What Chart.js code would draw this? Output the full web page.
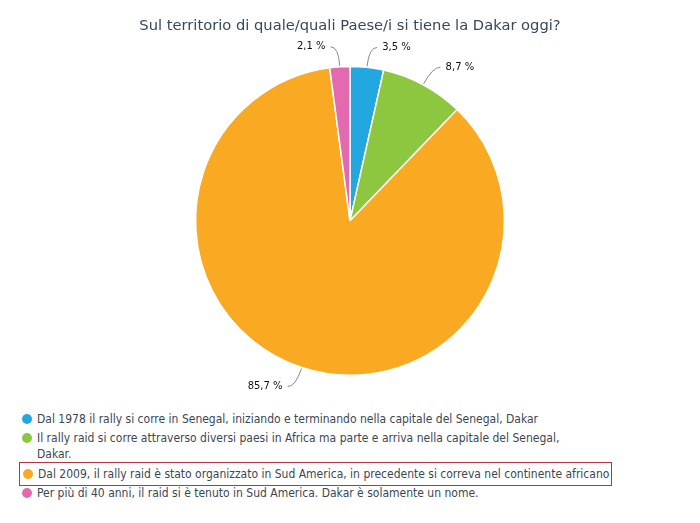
<!DOCTYPE html>
<html>
<head>
<meta charset="utf-8">
<script src="https://cdn.jsdelivr.net/npm/chart.js@4/dist/chart.umd.min.js"></script>
<style>
  body { margin: 0; background: #fff; font-family: "DejaVu Sans Condensed", "DejaVu Sans", sans-serif; }
  #wrap { position: relative; width: 700px; height: 400px; }
  #legend { position: absolute; left: 19px; top: 411px; width: 660px; color: #3b4753; font-size: 12px; line-height: 16px; }
  .item { position: relative; padding: 0 10px 0 18px; margin-bottom: 3px; max-width: 530px; }
  .item .dot { position: absolute; left: 3px; top: 3px; width: 10px; height: 10px; border-radius: 50%; }
  .item.marked { max-width: none; display: inline-block; white-space: nowrap; border: 1px solid #b4343f; padding: 3px 2px 3px 18px; margin-top: -3px; margin-bottom: -1px; }
  .item.marked .dot { top: 6px; }
</style>
</head>
<body>
<div id="wrap"><canvas id="chart"></canvas></div>
<div id="legend"></div>
<script>
// answers and their share of responses
const labels = [
  "Dal 1978 il rally si corre in Senegal, iniziando e terminando nella capitale del Senegal, Dakar",
  "Il rally raid si corre attraverso diversi paesi in Africa ma parte e arriva nella capitale del Senegal, Dakar.",
  "Dal 2009, il rally raid è stato organizzato in Sud America, in precedente si correva nel continente africano",
  "Per più di 40 anni, il raid si è tenuto in Sud America. Dakar è solamente un nome."
];
const values = [3.5, 8.7, 85.7, 2.1];
const colors = ["#22a7e0", "#8dc63f", "#faa922", "#e36aaf"];
const markedIndex = 2;

// outside labels with small curved leader lines
const outLabels = {
  id: "outLabels",
  afterDatasetsDraw(chart) {
    const ctx = chart.ctx;
    const meta = chart.getDatasetMeta(0);
    ctx.save();
    ctx.font = "10px 'DejaVu Sans'";
    ctx.textBaseline = "middle";
    meta.data.forEach((arc, i) => {
      const mid = (arc.startAngle + arc.endAngle) / 2;
      const r = arc.outerRadius;
      const cos = Math.cos(mid), sin = Math.sin(mid);
      const x0 = arc.x + cos * (r + 1), y0 = arc.y + sin * (r + 1);
      const x1 = arc.x + cos * (r + 20), y1 = arc.y + sin * (r + 20);
      const dir = cos >= 0 ? 1 : -1;
      const x2 = x1 + dir * 8;
      ctx.strokeStyle = "#888";
      ctx.lineWidth = 1;
      ctx.beginPath();
      ctx.moveTo(x0, y0);
      ctx.quadraticCurveTo(x1, y1, x2, y1);
      ctx.stroke();
      ctx.fillStyle = "#111";
      ctx.textAlign = dir > 0 ? "left" : "right";
      ctx.fillText(values[i].toFixed(1).replace(".", ",") + " %", x2 + dir * 5, y1);
    });
    ctx.restore();
  }
};

new Chart(document.getElementById("chart"), {
  type: "pie",
  data: {
    labels: labels,
    datasets: [{
      data: values,
      backgroundColor: colors,
      borderColor: "#ffffff",
      borderWidth: 1.5
    }]
  },
  options: {
    responsive: true,
    maintainAspectRatio: false,
    animation: false,
    layout: { padding: { top: 0, bottom: 24 } },
    plugins: {
      legend: { display: false },
      tooltip: { enabled: false },
      title: {
        display: true,
        text: "Sul territorio di quale/quali Paese/i si tiene la Dakar oggi?",
        color: "#34495e",
        font: { family: "DejaVu Sans", size: 14.7, weight: "normal" },
        padding: { top: 17, bottom: 31 }
      }
    }
  },
  plugins: [outLabels]
});

// legend built from the same arrays
const legend = document.getElementById("legend");
labels.forEach((text, i) => {
  const div = document.createElement("div");
  div.className = "item" + (i === markedIndex ? " marked" : "");
  const dot = document.createElement("span");
  dot.className = "dot";
  dot.style.background = colors[i];
  div.appendChild(dot);
  div.appendChild(document.createTextNode(text));
  legend.appendChild(div);
  if (i === markedIndex) legend.appendChild(document.createElement("br"));
});
</script>
</body>
</html>
